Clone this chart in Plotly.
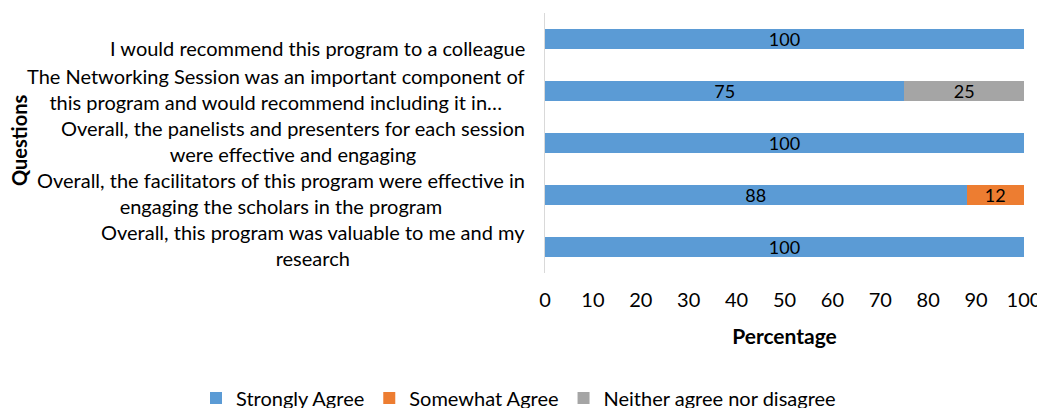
import plotly.graph_objects as go

categories = [
    "I would recommend this program to a colleague",
    "The Networking Session was an important component of<br>this program and would recommend including it in…",
    "Overall, the panelists and presenters for each session<br>were effective and engaging",
    "Overall, the facilitators of this program were effective in<br>engaging the scholars in the program",
    "Overall, this program was valuable to me and my<br>research",
]
strongly_agree = [100, 75, 100, 88, 100]
somewhat_agree = [0, 0, 0, 12, 0]
neither = [0, 25, 0, 0, 0]
series_names = ["Strongly Agree", "Somewhat Agree", "Neither agree nor disagree"]
colors = ["#5B9BD5", "#ED7D31", "#A5A5A5"]
x_ticks = [0, 10, 20, 30, 40, 50, 60, 70, 80, 90, 100]

FONT = "Lato"
fig = go.Figure()
for name, vals, col in zip(series_names, [strongly_agree, somewhat_agree, neither], colors):
    fig.add_trace(go.Bar(
        y=list(range(len(categories))), x=vals, name=name, orientation="h",
        marker=dict(color=col, line=dict(width=0)),
        text=[str(v) if v else "" for v in vals],
        textposition="inside", insidetextanchor="middle", textangle=0,
        textfont=dict(color="black", size=18, family=FONT),
        width=0.377,
    ))

for i, lab in enumerate(categories):
    fig.add_annotation(
        x=0, xref="paper", y=i, yref="y", xanchor="right", yanchor="middle",
        xshift=-18, yshift=(-9 if i == 0 else 2), text=lab, showarrow=False, align="center",
        font=dict(family=FONT, size=20, color="black"),
    )

fig.add_annotation(
    x=0, xref="paper", y=0.5, yref="paper", xanchor="center", yanchor="middle",
    xshift=-526, yshift=2, text="<b>Questions</b>",
    textangle=-90, showarrow=False, font=dict(family=FONT, size=20, color="black"),
)

fig.update_layout(
    width=1045, height=416,
    margin=dict(l=537, r=29, t=5, b=151),
    barmode="stack",
    plot_bgcolor="white", paper_bgcolor="white",
    uniformtext=dict(minsize=18, mode="show"),
    font=dict(family=FONT, size=18, color="black"),
    showlegend=True,
    legend=dict(orientation="h", x=-0.7286, xref="paper", xanchor="left",
                y=-0.481, yref="paper", yanchor="middle",
                font=dict(family=FONT, size=20), traceorder="normal", itemwidth=30),
)
fig.update_xaxes(range=[0, 100], tickvals=x_ticks, showgrid=False, zeroline=False, showline=False,
                 ticks="outside", ticklen=9, tickcolor="rgba(0,0,0,0)", automargin=False,
                 tickfont=dict(family=FONT, size=20),
                 title=dict(text="<b>Percentage</b>", font=dict(family=FONT, size=21), standoff=19))
fig.update_yaxes(range=[4.5, -0.5], showticklabels=False, showgrid=False, zeroline=False,
                 showline=True, linecolor="#D9D9D9", linewidth=1, ticks="", automargin=False)

fig.write_html("out.html")
